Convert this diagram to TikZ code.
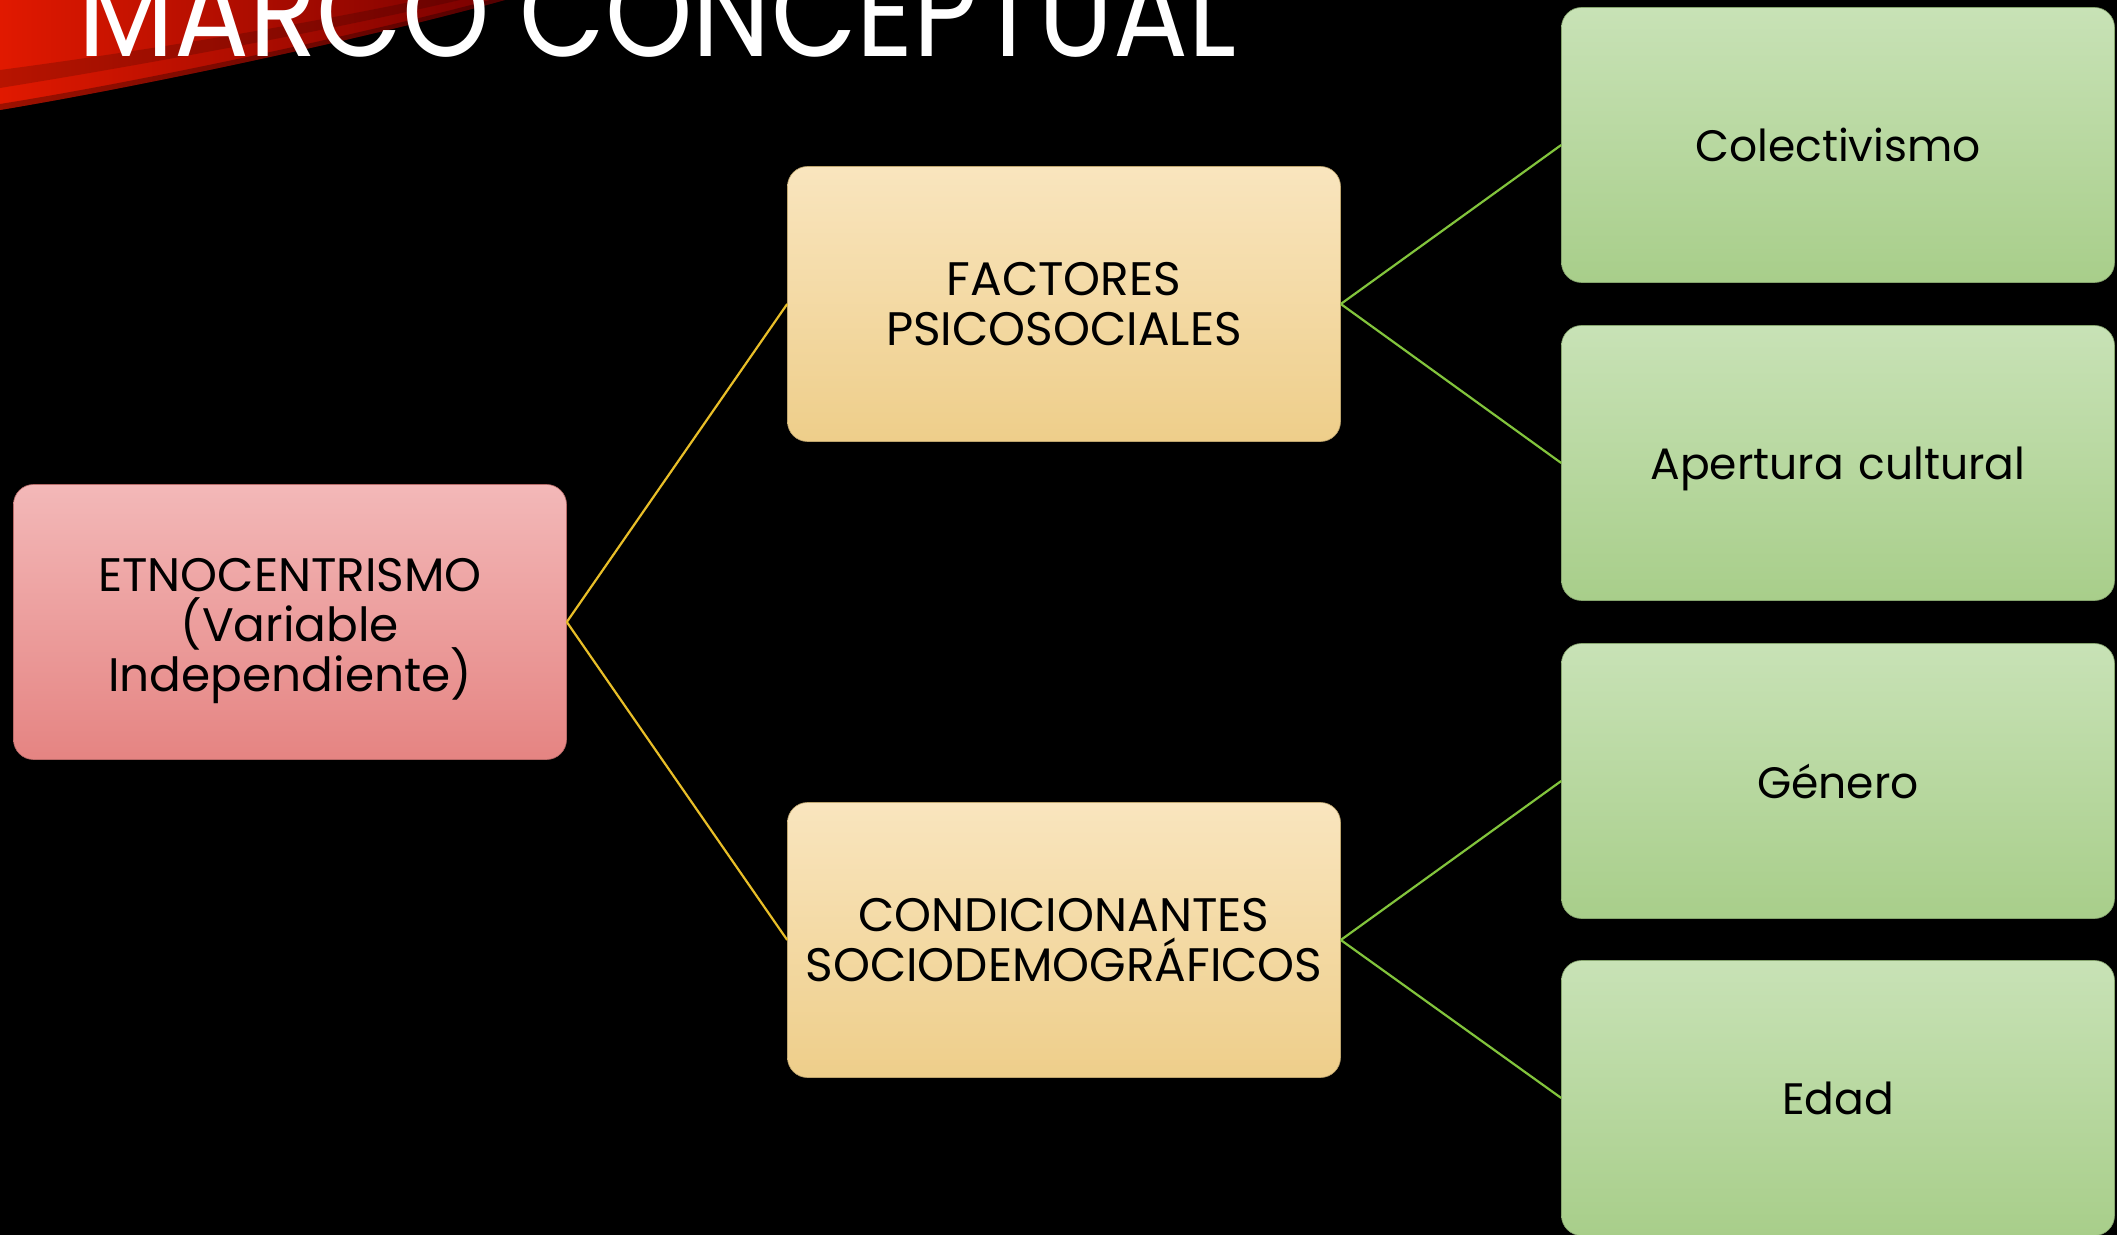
\documentclass[tikz,border=0pt]{standalone}
\usepackage{fontspec}
\setmainfont{Poppins}
\definecolor{pinkTop}{RGB}{243,184,184}
\definecolor{pinkBot}{RGB}{229,132,130}
\definecolor{tanTop}{RGB}{249,229,190}
\definecolor{tanBot}{RGB}{238,206,138}
\definecolor{grnTop}{RGB}{200,226,182}
\definecolor{grnBot}{RGB}{168,206,138}
\definecolor{yline}{RGB}{232,190,40}
\definecolor{gline}{RGB}{130,196,60}
\definecolor{redA}{RGB}{225,25,0}
\definecolor{redB}{RGB}{120,0,0}
\tikzset{
  x=0.5pt, y=-0.5pt,
  boxbase/.style={rounded corners=10pt, minimum width=276.5pt, minimum height=137.5pt,
    text width=270pt, align=center, inner sep=3pt, text=black},
  capfont/.style={font={\fontsize{23.5}{25}\selectfont\lineskiplimit=-20pt\relax}},
  lowfont/.style={font=\fontsize{22}{25}\selectfont},
  pinkbox/.style={boxbase, capfont, top color=pinkTop, bottom color=pinkBot, draw=pinkBot!80!black, line width=0.3pt},
  tanbox/.style={boxbase, capfont, top color=tanTop, bottom color=tanBot, draw=tanBot!80!black, line width=0.3pt},
  grnbox/.style={boxbase, lowfont, text depth=0pt, top color=grnTop, bottom color=grnBot, draw=grnBot!80!black, line width=0.3pt},
  yconn/.style={draw=yline, line width=1.1pt},
  gconn/.style={draw=gline, line width=1.1pt},
}
\begin{document}
\begin{tikzpicture}
\useasboundingbox (0,0) rectangle (2117,1235);
\clip (0,0) rectangle (2117,1235);
\fill[black] (0,0) rectangle (2117,1235);
% red swoosh
\shade[left color=redA, right color=redB]
  (0,0) -- (505,0) .. controls (380,35) and (150,85) .. (0,110) -- cycle;
\fill[black, opacity=0.18] (0,70) .. controls (150,50) and (300,25) .. (420,0) -- (460,0) .. controls (330,30) and (160,62) .. (0,88) -- cycle;
\fill[black, opacity=0.3] (0,104) .. controls (150,80) and (370,32) .. (490,0) -- (505,0) .. controls (380,35) and (150,85) .. (0,110) -- cycle;
% title
\node[anchor=base west, text=white, inner sep=0pt, font=\fontsize{55.6}{60}\selectfont] (title) at (78,57) {\scalebox{1}[1.15]{MARCO CONCEPTUAL}};
% boxes
\node[pinkbox, text depth=47pt] (etno) at (290,622) {ETNOCENTRISMO\\(Variable\\Independiente)};
\node[tanbox] (fact) at (1064,304) {FACTORES\\PSICOSOCIALES};
\node[tanbox] (cond) at (1064,940) {CONDICIONANTES\\SOCIODEMOGRÁFICOS};
\node[grnbox] (cole) at (1838,145) {Colectivismo};
\node[grnbox] (aper) at (1838,463) {Apertura cultural};
\node[grnbox] (gene) at (1838,781) {Género};
\node[grnbox] (edad) at (1838,1098) {Edad};
% connectors
\draw[yconn] (etno.east) -- (fact.west);
\draw[yconn] (etno.east) -- (cond.west);
\draw[gconn] (fact.east) -- (cole.west);
\draw[gconn] (fact.east) -- (aper.west);
\draw[gconn] (cond.east) -- (gene.west);
\draw[gconn] (cond.east) -- (edad.west);
\end{tikzpicture}
\end{document}
